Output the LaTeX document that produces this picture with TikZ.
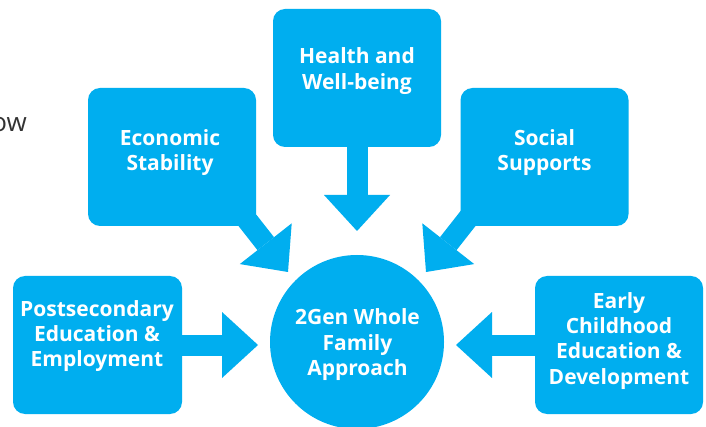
\documentclass[tikz,border=0pt]{standalone}
\usepackage{fontspec}
\setmainfont{Open Sans}
\usetikzlibrary{arrows.meta,backgrounds}
\definecolor{brand}{HTML}{00AEEF}
\definecolor{inkgray}{HTML}{333333}
% centred stack of lines with a fixed baseline step
\newcommand{\stack}[1]{\begin{tabular}{@{}c@{}}#1\end{tabular}}
\begin{document}
\begin{tikzpicture}[x=1pt,y=-1pt,
  topic/.style={fill=brand, draw=none, rounded corners=12pt, inner sep=0pt,
                minimum width=168pt, minimum height=138pt},
  hubshape/.style={circle, fill=brand, draw=none, inner sep=0pt, minimum size=174pt},
  boxtext/.style={text=white, inner sep=0pt,
                  font=\fontsize{21}{25.3}\selectfont\bfseries},
  flow/.style={draw=brand, line width=21pt,
               -{Triangle[width=66pt,length=36pt,line width=0pt,fill=brand]}}
]
\useasboundingbox (0,0) rectangle (706,427);

% topic boxes
\node[topic] (health) at (357,78) {};
\node[topic] (econ)   at (172,157) {};
\node[topic] (social) at (544.5,157) {};
\node[topic, minimum width=169pt] (post) at (97.5,345) {};
\node[topic] (early)  at (619,345) {};
\node[hubshape] (hub) at (357,342) {};

% box labels
\node[boxtext] (healthtxt) at (357,71.5)  {\stack{Health and\\Well-being}};
\node[boxtext] (econtxt)   at (170,153)   {\stack{Economic\\Stability}};
\node[boxtext] (socialtxt) at (544.5,153) {\stack{Social\\Supports}};
\node[boxtext] (posttxt)   at (97,336.5)  {\stack{Postsecondary\\Education \&\\Employment}};
\node[boxtext] (earlytxt)  at (619,341)   {\stack{Early\\Childhood\\Education \&\\Development}};
\node[boxtext] (hubtxt)    at (357.5,345) {\stack{2Gen Whole\\Family\\Approach}};

% clipped word at the left margin
\node[text=inkgray, inner sep=0pt, anchor=base east,
      font=\fontsize{26}{30}\selectfont] (frag) at (27,132) {ow};

% tails and tips of the block arrows
\coordinate (econTail)   at (200,160);
\coordinate (econTip)    at (288,272);
\coordinate (socialTail) at (514,160);
\coordinate (socialTip)  at (426,272);
\coordinate (healthTip)  at (357,231);
\coordinate (postTip)    at (258,345);
\coordinate (earlyTip)   at (456,345);

\begin{scope}[on background layer]
  \fill[white] (0,0) rectangle (706,427);
  \draw[flow] (health.center) -- (healthTip);
  \draw[flow] (econTail) -- (econTip);
  \draw[flow] (socialTail) -- (socialTip);
  \draw[flow] (post.center) -- (postTip);
  \draw[flow] (early.center) -- (earlyTip);
\end{scope}
\end{tikzpicture}
\end{document}
